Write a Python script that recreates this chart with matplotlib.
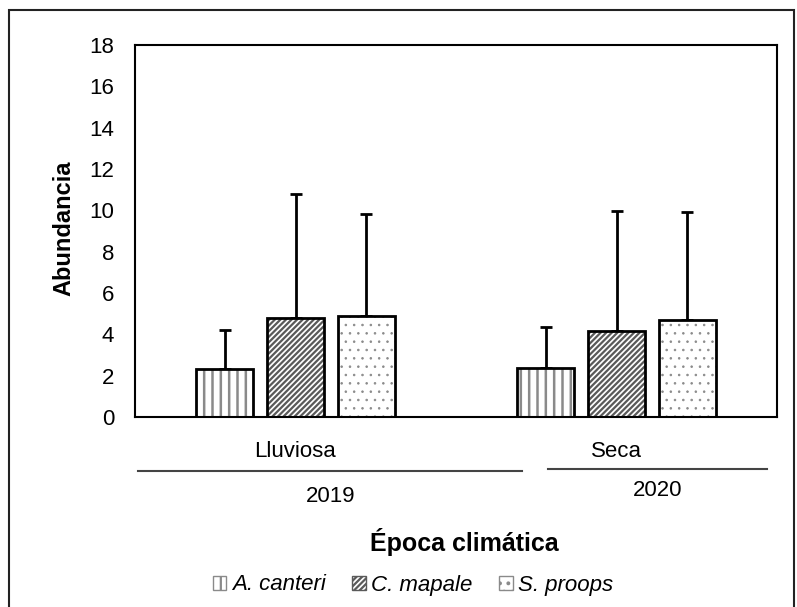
import numpy as np
import matplotlib.pyplot as plt
from matplotlib.patches import Rectangle
from matplotlib.lines import Line2D
import matplotlib.transforms as mtransforms

plt.rcParams['font.family'] = ['Liberation Sans', 'DejaVu Sans']
plt.rcParams['hatch.linewidth'] = 1.6

# === Data ===
epocas = ["Lluviosa", "Seca"]
anios = ["2019", "2020"]
especies = ["A. canteri", "C. mapale", "S. proops"]
media = {
    "A. canteri": [2.3, 2.35],
    "C. mapale": [4.8, 4.15],
    "S. proops": [4.9, 4.7],
}
desv = {
    "A. canteri": [1.9, 2.0],
    "C. mapale": [6.0, 5.8],
    "S. proops": [4.9, 5.2],
}

# fill styles per species
estilos = {
    "A. canteri": dict(hatch="||", hcolor="#8a8a8a", hlw=1.8),
    "C. mapale": dict(hatch="//////", hcolor="#5a5a5a", hlw=1.6),
    "S. proops": dict(hatch="..", hcolor="#8a8a8a", hlw=0.6),
}

fig = plt.figure(figsize=(7.97, 6.07), dpi=100)
ax = fig.add_axes([135 / 797, 1 - 417 / 607, (777 - 135) / 797, (417 - 45) / 607])

x = np.arange(len(epocas))
ancho = 0.177
offsets = [-0.221, 0.0, 0.221]

handles = []
for esp, off in zip(especies, offsets):
    st = estilos[esp]
    bars = ax.bar(x + off, media[esp], width=ancho, facecolor="white",
                  edgecolor=st["hcolor"], hatch=st["hatch"], linewidth=0, zorder=2)
    for b in bars:
        if hasattr(b, "set_hatch_linewidth"):
            b.set_hatch_linewidth(st["hlw"])
    # black outline drawn separately so the hatch can stay gray
    ax.bar(x + off, media[esp], width=ancho, facecolor="none",
           edgecolor="black", linewidth=2, zorder=3)
    ax.errorbar(x + off, media[esp], yerr=[np.zeros(len(x)), desv[esp]],
                fmt="none", ecolor="black", elinewidth=2, capsize=4.3,
                capthick=2, zorder=1)
    h = Rectangle((0, 0), 1, 1, facecolor="white", edgecolor=st["hcolor"],
                  hatch=st["hatch"], linewidth=1)
    handles.append(h)

ax.set_xlim(-0.5, 1.5)
ax.set_ylim(0, 18)
ax.set_yticks(np.arange(0, 19, 2))
ax.tick_params(axis="y", length=0, pad=15, labelsize=16)
ax.set_xticks(x)
ax.set_xticklabels(epocas)
ax.tick_params(axis="x", length=0, pad=17, labelsize=16)
for s in ax.spines.values():
    s.set_linewidth(1.5)
    s.set_color("black")

# year grouping lines and labels under the categories
trans = mtransforms.blended_transform_factory(ax.transData, fig.transFigure)
grupos_x = [(-0.49, 0.706), (0.787, 1.469)]
grupos_y = [1 - 470.7 / 607, 1 - 469 / 607]
anio_y = [1 - 496 / 607, 1 - 491 / 607]
for (x0, x1), yl, yt, lab in zip(grupos_x, grupos_y, anio_y, anios):
    fig.add_artist(Line2D([x0, x1], [yl, yl], transform=trans, color="#444444", lw=1.5))
    fig.text((x0 + x1) / 2, yt, lab, transform=trans, ha="center", va="center", fontsize=16)

fig.text(464 / 797, 1 - 542 / 607, "Época climática", ha="center", va="center",
         fontsize=18, fontweight="bold")
fig.text(64 / 797, 1 - 228 / 607, "Abundancia", ha="center", va="center",
         rotation=90, fontsize=17, fontweight="bold")

fig.legend(handles, especies, loc="center", bbox_to_anchor=(413 / 797, 1 - 585 / 607),
           ncol=3, frameon=False, prop=dict(style="italic", size=16),
           handlelength=0.6, handleheight=0.6, handletextpad=0.25, columnspacing=1.2)

# outer border
fig.add_artist(Rectangle((9 / 797, -0.02), (794 - 9) / 797, 1.02 - 10 / 607,
                         transform=fig.transFigure, fill=False, edgecolor="#222222", lw=1.5))

plt.savefig("out.png", dpi=100, facecolor="white")
